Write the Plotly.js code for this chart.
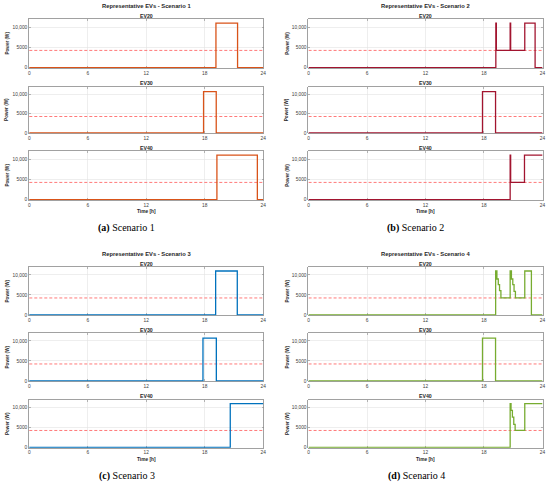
<!DOCTYPE html>
<html>
<head>
<meta charset="utf-8">
<script src="https://cdn.plot.ly/plotly-3.0.1.min.js"></script>
<style>html,body{margin:0;padding:0;background:#fff;}#chart{width:550px;height:486px;}</style>
</head>
<body>
<div id="chart"></div>
<script>
// ---------- DATA (time in hours, power in W; step-wise) ----------
const xTicks = [0, 6, 12, 18, 24];
const yTicks = [0, 5000, 10000];
const yTickLabels = ['0', '5000', '10,000'];
const evNames = ['EV20', 'EV30', 'EV40'];
const scenarioNames = ['Scenario 1', 'Scenario 2', 'Scenario 3', 'Scenario 4'];
const captionLetters = ['(a)', '(b)', '(c)', '(d)'];
const limitPower = 4250;

// Scenario 1
const s1_ev20_t = [0, 19.15, 21.37, 24];
const s1_ev20_p = [0, 11000, 0, 0];
const s1_ev30_t = [0, 17.88, 19.18, 24];
const s1_ev30_p = [0, 10700, 0, 0];
const s1_ev40_t = [0, 19.25, 23.4, 24];
const s1_ev40_p = [0, 11000, 0, 0];

// Scenario 2
const s2_ev20_t = [0, 19.22, 19.27, 20.69, 20.74, 22.19, 23.25, 24];
const s2_ev20_p = [0, 11000, 4250, 11000, 4250, 11000, 0, 0];
const s2_ev30_t = [0, 17.85, 19.19, 24];
const s2_ev30_p = [0, 10700, 0, 0];
const s2_ev40_t = [0, 20.69, 20.74, 22.16, 24];
const s2_ev40_p = [0, 11000, 4250, 11000, 11000];

// Scenario 3
const s3_ev20_t = [0, 19.12, 21.34, 24];
const s3_ev20_p = [0, 11000, 0, 0];
const s3_ev30_t = [0, 17.82, 19.19, 24];
const s3_ev30_p = [0, 10700, 0, 0];
const s3_ev40_t = [0, 20.62, 24];
const s3_ev40_p = [0, 11000, 11000];

// Scenario 4
const s4_ev20_t = [0, 19.2, 19.33, 19.47, 19.6, 19.74, 20.69, 20.82, 20.96, 21.09, 21.23, 22.19, 22.87, 24];
const s4_ev20_p = [0, 11000, 9000, 7600, 6100, 4250, 11000, 9000, 7600, 5900, 4250, 11000, 0, 0];
const s4_ev30_t = [0, 17.85, 19.19, 24];
const s4_ev30_p = [0, 10700, 0, 0];
const s4_ev40_t = [0, 20.69, 20.78, 20.92, 21.06, 21.2, 22.19, 24];
const s4_ev40_p = [0, 11000, 9300, 7600, 5800, 4250, 11000, 11000];

const series = [
  [[s1_ev20_t, s1_ev20_p], [s1_ev30_t, s1_ev30_p], [s1_ev40_t, s1_ev40_p]],
  [[s2_ev20_t, s2_ev20_p], [s2_ev30_t, s2_ev30_p], [s2_ev40_t, s2_ev40_p]],
  [[s3_ev20_t, s3_ev20_p], [s3_ev30_t, s3_ev30_p], [s3_ev40_t, s3_ev40_p]],
  [[s4_ev20_t, s4_ev20_p], [s4_ev30_t, s4_ev30_p], [s4_ev40_t, s4_ev40_p]]
];
const colors = ['#D95319', '#A2142F', '#0072BD', '#77AC30'];

// ---------- LAYOUT ----------
const W = 550, H = 486;
const fx = v => v / W;
const fy = v => 1 - v / H;

const topRows = [[19, 68], [86.5, 133.3], [151, 200]];
const botRows = [[267, 315.3], [333, 381.3], [399.7, 447.7]];
const panels = [
  {x0: 29, x1: 263.5, rows: topRows, titleY: 6, timeY: 211.5, capY: 228, capX: 126.5, ylabX: 7},
  {x0: 308.3, x1: 542.7, rows: topRows, titleY: 6, timeY: 211.5, capY: 228, capX: 415.5, ylabX: 287.3},
  {x0: 29, x1: 263.5, rows: botRows, titleY: 254, timeY: 459.5, capY: 476, capX: 126.5, ylabX: 7.3},
  {x0: 308.3, x1: 542.7, rows: botRows, titleY: 254, timeY: 459.5, capY: 476, capX: 416, ylabX: 287.3}
];

const textCol = '#262626';
const baseFont = 'Liberation Sans, Arial, sans-serif';
const traces = [];
const layout = {
  width: W, height: H,
  margin: {l: 0, r: 0, t: 0, b: 0},
  paper_bgcolor: '#ffffff',
  plot_bgcolor: '#ffffff',
  showlegend: false,
  annotations: []
};

let idx = 0;
panels.forEach((pn, pi) => {
  const cx = (pn.x0 + pn.x1) / 2;
  layout.annotations.push({
    xref: 'paper', yref: 'paper', x: fx(cx), y: fy(pn.titleY),
    text: '<b>Representative EVs - ' + scenarioNames[pi] + '</b>',
    showarrow: false, xanchor: 'center', yanchor: 'middle',
    font: {family: baseFont, size: 5.8, color: textCol}
  });
  layout.annotations.push({
    xref: 'paper', yref: 'paper', x: fx(cx), y: fy(pn.timeY),
    text: '<b>Time [h]</b>',
    showarrow: false, xanchor: 'center', yanchor: 'middle',
    font: {family: baseFont, size: 4.8, color: textCol}
  });
  layout.annotations.push({
    xref: 'paper', yref: 'paper', x: fx(pn.capX), y: fy(pn.capY),
    text: '<b>' + captionLetters[pi] + '</b> ' + scenarioNames[pi],
    showarrow: false, xanchor: 'center', yanchor: 'middle',
    font: {family: 'Liberation Serif, Times New Roman, serif', size: 10, color: '#000'}
  });

  pn.rows.forEach((r, ri) => {
    idx++;
    const xa = 'xaxis' + (idx === 1 ? '' : idx);
    const ya = 'yaxis' + (idx === 1 ? '' : idx);
    const xr = 'x' + (idx === 1 ? '' : idx);
    const yr = 'y' + (idx === 1 ? '' : idx);
    layout[xa] = {
      domain: [fx(pn.x0), fx(pn.x1)], anchor: yr,
      range: [-0.03, 24.03], tickvals: xTicks, ticktext: xTicks.map(String),
      showline: true, linecolor: '#8a8a8a', linewidth: 0.8, mirror: 'ticks',
      ticks: 'inside', ticklen: 2, tickcolor: '#8a8a8a', tickwidth: 0.6,
      showgrid: true, gridcolor: '#e3e3e3', gridwidth: 0.6,
      zeroline: false, fixedrange: true, layer: 'below traces',
      tickfont: {family: baseFont, size: 4.8, color: '#404040'}
    };
    layout[ya] = {
      domain: [fy(r[1]), fy(r[0])], anchor: xr,
      range: [-90, 12000], tickvals: yTicks, ticktext: yTickLabels,
      showline: true, linecolor: '#8a8a8a', linewidth: 0.8, mirror: 'ticks',
      ticks: 'inside', ticklen: 2, tickcolor: '#8a8a8a', tickwidth: 0.6,
      showgrid: true, gridcolor: '#e3e3e3', gridwidth: 0.6,
      zeroline: false, fixedrange: true, layer: 'below traces',
      tickfont: {family: baseFont, size: 4.8, color: '#404040'}
    };
    layout.annotations.push({
      xref: 'paper', yref: 'paper', x: fx(cx), y: fy(r[0] - 3.3),
      text: '<b>' + evNames[ri] + '</b>',
      showarrow: false, xanchor: 'center', yanchor: 'middle',
      font: {family: baseFont, size: 5.2, color: textCol}
    });
    layout.annotations.push({
      xref: 'paper', yref: 'paper', x: fx(pn.ylabX), y: fy((r[0] + r[1]) / 2),
      text: '<b>Power (W)</b>', textangle: -90,
      showarrow: false, xanchor: 'center', yanchor: 'middle',
      font: {family: baseFont, size: 4.6, color: textCol}
    });
    // limit line
    traces.push({
      x: [0, 24], y: [limitPower, limitPower], xaxis: xr, yaxis: yr,
      mode: 'lines', line: {color: '#ff6b6b', width: 0.9, dash: '3px,2px'},
      hoverinfo: 'skip'
    });
    const d = series[pi][ri];
    traces.push({
      x: d[0], y: d[1], xaxis: xr, yaxis: yr,
      mode: 'lines', line: {color: colors[pi], width: 1.3, shape: 'hv'},
      hoverinfo: 'skip'
    });
  });
});

Plotly.newPlot('chart', traces, layout, {staticPlot: true, displayModeBar: false});
</script>
</body>
</html>
